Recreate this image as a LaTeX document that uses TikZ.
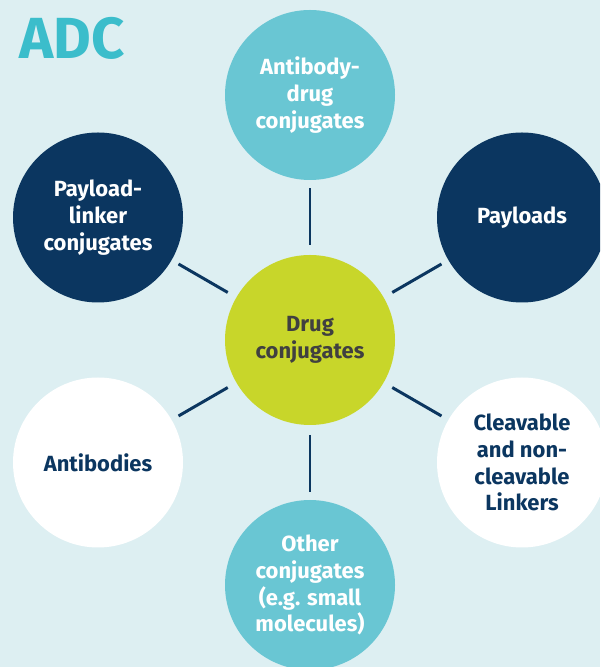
\documentclass[tikz,border=0pt]{standalone}
\usepackage{fontspec}
\setmainfont{Fira Sans}
\definecolor{adcback}{RGB}{221,239,242}
\definecolor{adcteal}{RGB}{105,198,211}
\definecolor{adctitle}{RGB}{59,189,203}
\definecolor{adcnavy}{RGB}{11,54,96}
\definecolor{adclime}{RGB}{200,214,42}
\definecolor{adcgray}{RGB}{64,64,64}

\begin{document}
\begin{tikzpicture}[
  font=\bfseries\fontsize{12.5}{15.3}\selectfont, line cap=round,
  bubble/.style={circle, minimum size=3.4cm, inner sep=0pt, outer sep=0pt, align=center},
  spoke/.style={adcnavy, line width=1.7pt, line cap=butt, shorten <=0.2cm, shorten >=0.16cm}]

% ---------- background ----------
\fill[adcback] (0,0) rectangle (12,13.34);
\clip (0,0) rectangle (12,13.34);

\node[anchor=base west, adctitle, font=\bfseries\fontsize{33}{33}\selectfont] (title) at (0.26,12.16) {ADC};

% ---------- bubbles ----------
\node[bubble, fill=adclime, text=adcgray] (hub) at (6.20,6.54) {Drug\\conjugates};
\node[bubble, fill=adcteal, text=white] (adcs) at (6.20,11.44) {Antibody-\\drug\\conjugates};
\node[bubble, fill=adcnavy, text=white] (payloads) at (10.44,8.99) {Payloads};
\node[bubble, fill=white, text=adcnavy] (linkers) at (10.44,4.09) {Cleavable\\and non-\\cleavable\\Linkers};
\node[bubble, fill=adcteal, text=white] (others) at (6.20,1.64) {Other\\conjugates\\(e.g. small\\molecules)};
\node[bubble, fill=white, text=adcnavy] (antibodies) at (1.96,4.09) {Antibodies};
\node[bubble, fill=adcnavy, text=white] (plc) at (1.96,8.99) {Payload-\\linker\\conjugates};

% ---------- spokes ----------
\foreach \outer in {adcs,payloads,linkers,others,antibodies,plc}
  \draw[spoke] (hub) -- (\outer);

\end{tikzpicture}
\end{document}
